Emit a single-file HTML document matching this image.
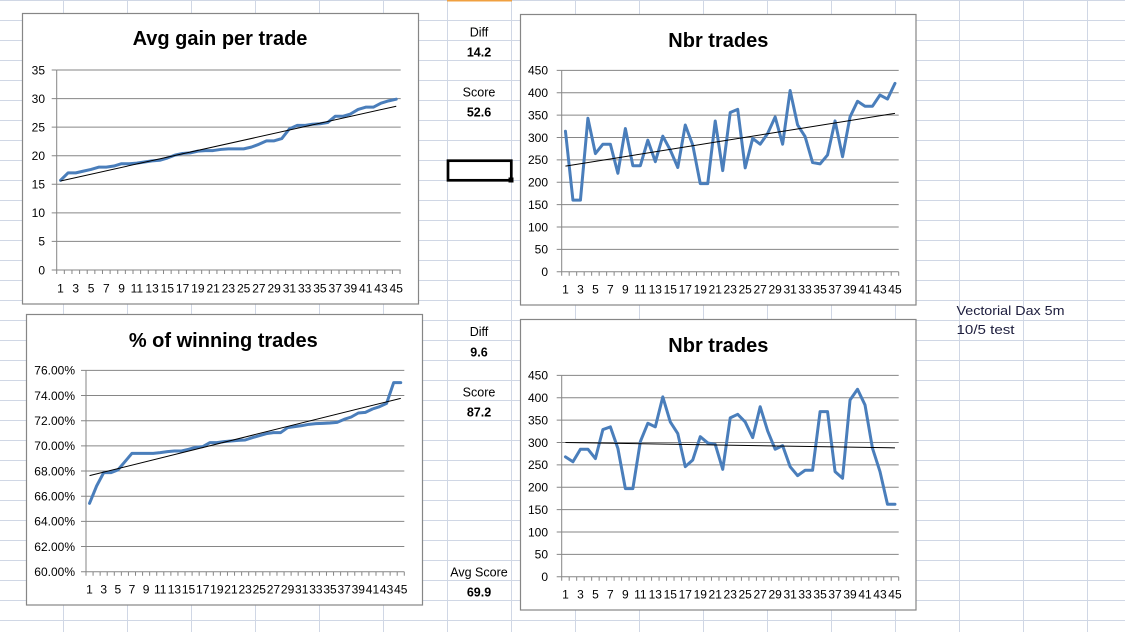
<!DOCTYPE html>
<html><head><meta charset="utf-8"><style>
html,body{margin:0;padding:0;background:#fff;}
svg{display:block;}
text{font-family:"Liberation Sans",Arial,sans-serif;}
.t{font-size:20px;font-weight:bold;fill:#000;text-anchor:middle;}
.yl{font-size:12px;fill:#000;text-anchor:end;}
.xl{font-size:12px;fill:#000;text-anchor:middle;}
.c{font-size:12.5px;fill:#000;text-anchor:middle;}
.cb{font-size:12.5px;fill:#000;text-anchor:middle;font-weight:bold;}
.g{stroke:#868686;stroke-width:1;fill:none;}
.ser{fill:none;stroke:#4a7ebb;stroke-width:3;stroke-linejoin:round;stroke-linecap:round;vector-effect:non-scaling-stroke;}
.tr{fill:none;stroke:#000;stroke-width:1;vector-effect:non-scaling-stroke;}
.box{fill:#fff;stroke:#868686;stroke-width:1.2;}
</style></head><body>
<svg width="1125" height="632" viewBox="0 0 1125 632" xmlns="http://www.w3.org/2000/svg">
<defs>
<pattern id="grid" width="64" height="20" patternUnits="userSpaceOnUse" x="0" y="0">
<rect x="0" y="0" width="64" height="1" fill="#d0d7e5"/>
<rect x="63" y="0" width="1" height="20" fill="#d0d7e5"/>
</pattern>
</defs>
<rect x="0" y="0" width="1125" height="632" fill="#fff"/>
<rect x="0" y="0" width="1125" height="632" fill="url(#grid)"/>
<rect x="447" y="0" width="65" height="1.5" fill="#f0a040"/>

<!-- cell texts -->
<text class="c" x="479" y="36.5">Diff</text>
<text class="cb" x="479" y="56.5">14.2</text>
<text class="c" x="479" y="96.5">Score</text>
<text class="cb" x="479" y="116.5">52.6</text>
<text class="c" x="479" y="336">Diff</text>
<text class="cb" x="479" y="356.5">9.6</text>
<text class="c" x="479" y="396.5">Score</text>
<text class="cb" x="479" y="416.5">87.2</text>
<text class="c" x="479" y="576.5">Avg Score</text>
<text class="cb" x="479" y="596.5">69.9</text>
<text x="956.5" y="315" font-size="13" fill="#1c1c3c" textLength="108" lengthAdjust="spacingAndGlyphs">Vectorial Dax 5m</text>
<text x="956.5" y="334" font-size="13" fill="#1c1c3c" textLength="58" lengthAdjust="spacingAndGlyphs">10/5 test</text>

<!-- selected cell -->
<rect x="448" y="160.7" width="63.3" height="19.6" fill="none" stroke="#000" stroke-width="2.7"/>
<rect x="508.5" y="177.5" width="5" height="5" fill="#000"/>

<!-- ============ Chart 1 ============ -->
<rect class="box" x="22.5" y="13.5" width="396" height="290.5"/>
<text class="t" x="220" y="45">Avg gain per trade</text>
<path class="g" d="M56.7 70H400.7M56.7 98.57H400.7M56.7 127.14H400.7M56.7 155.71H400.7M56.7 184.29H400.7M56.7 212.86H400.7M56.7 241.43H400.7M56.7 270H400.7M56.7 70V270"/>
<line x1="56.2" y1="272" x2="401.2" y2="272" stroke="#868686" stroke-width="4" stroke-dasharray="1 6.63"/>
<line x1="54.2" y1="69.5" x2="54.2" y2="270.5" stroke="#868686" stroke-width="5" stroke-dasharray="1 27.57"/>
<text class="yl" x="45" y="74.3">35</text>
<text class="yl" x="45" y="102.9">30</text>
<text class="yl" x="45" y="131.4">25</text>
<text class="yl" x="45" y="160">20</text>
<text class="yl" x="45" y="188.6">15</text>
<text class="yl" x="45" y="217.2">10</text>
<text class="yl" x="45" y="245.7">5</text>
<text class="yl" x="45" y="274.3">0</text>
<text class="xl" y="292.5"><tspan x="60.52">1</tspan><tspan x="75.78">3</tspan><tspan x="91.04">5</tspan><tspan x="106.3">7</tspan><tspan x="121.56">9</tspan><tspan x="136.82">11</tspan><tspan x="152.08">13</tspan><tspan x="167.34">15</tspan><tspan x="182.6">17</tspan><tspan x="197.86">19</tspan><tspan x="213.12">21</tspan><tspan x="228.38">23</tspan><tspan x="243.64">25</tspan><tspan x="258.9">27</tspan><tspan x="274.16">29</tspan><tspan x="289.42">31</tspan><tspan x="304.68">33</tspan><tspan x="319.94">35</tspan><tspan x="335.2">37</tspan><tspan x="350.46">39</tspan><tspan x="365.72">41</tspan><tspan x="380.98">43</tspan><tspan x="396.24">45</tspan></text>
<g transform="matrix(7.63,0,0,-5.714,52.885,270)">
<polyline class="ser" points="1,15.7 2,17.0 3,17.0 4,17.3 5,17.6 6,18.0 7,18.0 8,18.2 9,18.6 10,18.6 11,18.7 12,18.9 13,19.1 14,19.2 15,19.6 16,20.1 17,20.4 18,20.5 19,20.8 20,20.9 21,20.9 22,21.1 23,21.2 24,21.2 25,21.2 26,21.5 27,22.0 28,22.6 29,22.6 30,23.0 31,24.7 32,25.3 33,25.3 34,25.5 35,25.6 36,25.8 37,26.9 38,26.9 39,27.3 40,28.1 41,28.5 42,28.5 43,29.2 44,29.6 45,29.9"/>
<polyline class="tr" points="1,15.58 45,28.66"/>
</g>

<!-- ============ Chart 2 ============ -->
<rect class="box" x="520.5" y="14.5" width="395.5" height="290.5"/>
<text class="t" x="718.3" y="47">Nbr trades</text>
<path class="g" d="M561.7 70.4H898.7M561.7 92.77H898.7M561.7 115.13H898.7M561.7 137.5H898.7M561.7 159.87H898.7M561.7 182.23H898.7M561.7 204.6H898.7M561.7 226.97H898.7M561.7 249.33H898.7M561.7 271.7H898.7M561.7 70.4V271.7"/>
<line x1="561.2" y1="273.7" x2="899.2" y2="273.7" stroke="#868686" stroke-width="4" stroke-dasharray="1 6.489"/>
<line x1="559.2" y1="69.9" x2="559.2" y2="272.2" stroke="#868686" stroke-width="5" stroke-dasharray="1 21.367"/>
<text class="yl" x="548" y="74.7">450</text>
<text class="yl" x="548" y="97.1">400</text>
<text class="yl" x="548" y="119.4">350</text>
<text class="yl" x="548" y="141.8">300</text>
<text class="yl" x="548" y="164.2">250</text>
<text class="yl" x="548" y="186.5">200</text>
<text class="yl" x="548" y="208.9">150</text>
<text class="yl" x="548" y="231.3">100</text>
<text class="yl" x="548" y="253.6">50</text>
<text class="yl" x="548" y="276">0</text>
<text class="xl" y="293.5"><tspan x="565.45">1</tspan><tspan x="580.43">3</tspan><tspan x="595.41">5</tspan><tspan x="610.38">7</tspan><tspan x="625.36">9</tspan><tspan x="640.34">11</tspan><tspan x="655.32">13</tspan><tspan x="670.3">15</tspan><tspan x="685.27">17</tspan><tspan x="700.25">19</tspan><tspan x="715.23">21</tspan><tspan x="730.21">23</tspan><tspan x="745.19">25</tspan><tspan x="760.16">27</tspan><tspan x="775.14">29</tspan><tspan x="790.12">31</tspan><tspan x="805.1">33</tspan><tspan x="820.08">35</tspan><tspan x="835.05">37</tspan><tspan x="850.03">39</tspan><tspan x="865.01">41</tspan><tspan x="879.99">43</tspan><tspan x="894.97">45</tspan></text>
<g transform="matrix(7.489,0,0,-0.4473,557.96,271.7)">
<polyline class="ser" points="1,314 2,160 3,160 4,343 5,264 6,285 7,285 8,220 9,320 10,237 11,237 12,294 13,246 14,303 15,272 16,233 17,328 18,283 19,197 20,197 21,337 22,226 23,356 24,363 25,232 26,298 27,285 28,309 29,346 30,285 31,405 32,328 33,302 34,244 35,241 36,261 37,337 38,257 39,346 40,381 41,370 42,370 43,395 44,386 45,421"/>
<polyline class="tr" points="1,236 45,354"/>
</g>

<!-- ============ Chart 3 ============ -->
<rect class="box" x="26.5" y="314.5" width="396" height="290.5"/>
<text class="t" x="223.3" y="347">% of winning trades</text>
<path class="g" d="M86 370.37H404.3M86 395.53H404.3M86 420.7H404.3M86 445.87H404.3M86 471.03H404.3M86 496.2H404.3M86 521.37H404.3M86 546.53H404.3M86 571.7H404.3M86 370.37V571.7"/>
<line x1="85.5" y1="573.7" x2="404.8" y2="573.7" stroke="#868686" stroke-width="4" stroke-dasharray="1 6.073"/>
<line x1="83.5" y1="369.87" x2="83.5" y2="572.2" stroke="#868686" stroke-width="5" stroke-dasharray="1 24.17"/>
<text class="yl" x="75" y="374.6">76.00%</text>
<text class="yl" x="75" y="399.8">74.00%</text>
<text class="yl" x="75" y="425">72.00%</text>
<text class="yl" x="75" y="450.1">70.00%</text>
<text class="yl" x="75" y="475.3">68.00%</text>
<text class="yl" x="75" y="500.5">66.00%</text>
<text class="yl" x="75" y="525.6">64.00%</text>
<text class="yl" x="75" y="550.8">62.00%</text>
<text class="yl" x="75" y="576">60.00%</text>
<text class="xl" y="593.5"><tspan x="89.53">1</tspan><tspan x="103.68">3</tspan><tspan x="117.83">5</tspan><tspan x="131.97">7</tspan><tspan x="146.12">9</tspan><tspan x="160.26">11</tspan><tspan x="174.41">13</tspan><tspan x="188.56">15</tspan><tspan x="202.7">17</tspan><tspan x="216.85">19</tspan><tspan x="230.99">21</tspan><tspan x="245.14">23</tspan><tspan x="259.29">25</tspan><tspan x="273.43">27</tspan><tspan x="287.58">29</tspan><tspan x="301.72">31</tspan><tspan x="315.87">33</tspan><tspan x="330.02">35</tspan><tspan x="344.16">37</tspan><tspan x="358.31">39</tspan><tspan x="372.45">41</tspan><tspan x="386.6">43</tspan><tspan x="400.75">45</tspan></text>
<g transform="matrix(7.073,0,0,0.33333,82.46,305)">
<polyline class="ser" points="1,595 2,543 3,503 4,503 5,495 6,470 7,445 8,445 9,445 10,445 11,443 12,440 13,438 14,438 15,433 16,427 17,425 18,413 19,413 20,410 21,408 22,406 23,405 24,398 25,392 26,386 27,383 28,383 29,368 30,365 31,362 32,358 33,356 34,355 35,354 36,352 37,343 38,336 39,324 40,322 41,312 42,305 43,295 44,233 45,233"/>
<polyline class="tr" points="1,512 45,280"/>
</g>

<!-- ============ Chart 4 ============ -->
<rect class="box" x="520.5" y="319.5" width="395.5" height="290.5"/>
<text class="t" x="718.3" y="352">Nbr trades</text>
<path class="g" d="M561.7 375.4H898.7M561.7 397.77H898.7M561.7 420.13H898.7M561.7 442.5H898.7M561.7 464.87H898.7M561.7 487.23H898.7M561.7 509.6H898.7M561.7 531.97H898.7M561.7 554.33H898.7M561.7 576.7H898.7M561.7 375.4V576.7"/>
<line x1="561.2" y1="578.7" x2="899.2" y2="578.7" stroke="#868686" stroke-width="4" stroke-dasharray="1 6.489"/>
<line x1="559.2" y1="374.9" x2="559.2" y2="577.2" stroke="#868686" stroke-width="5" stroke-dasharray="1 21.367"/>
<text class="yl" x="548" y="379.7">450</text>
<text class="yl" x="548" y="402.1">400</text>
<text class="yl" x="548" y="424.4">350</text>
<text class="yl" x="548" y="446.8">300</text>
<text class="yl" x="548" y="469.2">250</text>
<text class="yl" x="548" y="491.5">200</text>
<text class="yl" x="548" y="513.9">150</text>
<text class="yl" x="548" y="536.3">100</text>
<text class="yl" x="548" y="558.6">50</text>
<text class="yl" x="548" y="581">0</text>
<text class="xl" y="598.5"><tspan x="565.45">1</tspan><tspan x="580.43">3</tspan><tspan x="595.41">5</tspan><tspan x="610.38">7</tspan><tspan x="625.36">9</tspan><tspan x="640.34">11</tspan><tspan x="655.32">13</tspan><tspan x="670.3">15</tspan><tspan x="685.27">17</tspan><tspan x="700.25">19</tspan><tspan x="715.23">21</tspan><tspan x="730.21">23</tspan><tspan x="745.19">25</tspan><tspan x="760.16">27</tspan><tspan x="775.14">29</tspan><tspan x="790.12">31</tspan><tspan x="805.1">33</tspan><tspan x="820.08">35</tspan><tspan x="835.05">37</tspan><tspan x="850.03">39</tspan><tspan x="865.01">41</tspan><tspan x="879.99">43</tspan><tspan x="894.97">45</tspan></text>
<g transform="matrix(7.489,0,0,-0.4473,557.96,576.7)">
<polyline class="ser" points="1,268 2,257 3,285 4,285 5,264 6,329 7,335 8,287 9,197 10,197 11,302 12,343 13,335 14,402 15,346 16,320 17,246 18,261 19,313 20,299 21,296 22,240 23,355 24,363 25,346 26,311 27,380 28,326 29,285 30,293 31,246 32,226 33,238 34,238 35,369 36,369 37,235 38,220 39,395 40,419 41,384 42,287 43,235 44,162 45,162"/>
<polyline class="tr" points="1,300 45,288"/>
</g>
</svg>
</body></html>
